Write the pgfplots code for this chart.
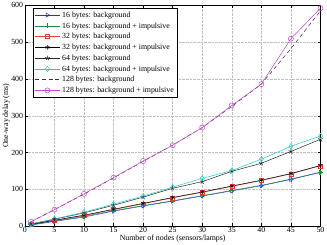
\documentclass[border=0pt]{standalone}
\usepackage{fontspec}
\setmainfont{Liberation Serif}
\usepackage{pgfplots}
\pgfplotsset{compat=1.18}
\usepackage{pgfplotstable}

\definecolor{mblue}{RGB}{40,40,250}
\definecolor{mgreen}{RGB}{20,140,60}
\definecolor{mred}{RGB}{235,60,60}
\definecolor{mcyan}{RGB}{40,200,200}
\definecolor{mmag}{RGB}{195,70,205}

% one-way delay (ms) against number of nodes
\pgfplotstableread{
n   bga   bgimpa  bgb  bgimpb  bgc  bgimpc  bgd  bgimpd
1   3     4       5    5       6    6       12   12
5   13    14      16   16      19   20      45   45
10  25    27      29   30      36   38      87   88
15  41    42      45   46      57   60      131  132
20  55    56      61   62      79   82      176  177
25  68    69      77   78      103  106     220  220
30  82    83      92   93      121  130     268  268
35  96    97      108  109     149  151     325  328
40  110   111     124  125     171  182     386  386
45  127   128     142  143     203  217     482  509
50  146   147     164  165     236  245     585  592
}\delay

\begin{document}
\fontsize{8}{9.5}\selectfont
\begin{tikzpicture}
\begin{axis}[
  scale only axis,
  width=301pt, height=225pt,
  xmin=0, xmax=50, ymin=0, ymax=600,
  xtick={0,5,...,50}, ytick={0,100,...,600},
  tick align=inside,
  major tick length=3pt,
  grid=major,
  major grid style={densely dotted, gray!50, line width=0.4pt},
  axis line style={line width=0.5pt},
  tick style={black, line width=0.4pt},
  ticklabel style={font=\fontsize{8}{9.5}\selectfont},
  xticklabel style={yshift=2pt},
  yticklabel style={xshift=1pt},
  /pgf/number format/assume math mode=true,
  xlabel={Number of nodes (sensors/lamps)},
  ylabel={One-way delay (ms)},
  label style={font=\fontsize{8}{9.5}\selectfont},
  xlabel style={yshift=3pt},
  ylabel style={yshift=-4pt},
  every axis plot/.append style={line width=0.5pt},
  mark options={solid, line width=0.5pt},
  legend cell align=left,
  legend style={at={(rel axis cs:0.027,0.987)}, anchor=north west,
    font=\fontsize{8}{9.5}\selectfont, draw=black, line width=0.5pt,
    inner sep=1.5pt, row sep=0.2pt},
  legend image code/.code={
    \draw[mark repeat=2, mark phase=2] plot coordinates {(0cm,0cm) (0.45cm,0cm) (0.9cm,0cm)};
  },
]
\addplot[mblue, mark=triangle, mark size=2.4pt, every mark/.append style={rotate=-90}] table[x=n, y=bga] {\delay};
\addlegendentry{16 bytes: background}
\addplot[mgreen, mark=+, mark size=2.6pt] table[x=n, y=bgimpa] {\delay};
\addlegendentry{16 bytes: background + impulsive}
\addplot[mred, mark=square, mark size=2pt] table[x=n, y=bgb] {\delay};
\addlegendentry{32 bytes: background}
\addplot[black, mark=asterisk, mark size=2.2pt] table[x=n, y=bgimpb] {\delay};
\addlegendentry{32 bytes: background + impulsive}
\addplot[black!85, mark=star, mark size=2.6pt] table[x=n, y=bgc] {\delay};
\addlegendentry{64 bytes: background}
\addplot[mcyan, mark=diamond, mark size=2.8pt] table[x=n, y=bgimpc] {\delay};
\addlegendentry{64 bytes: background + impulsive}
\addplot[black!80, dashed, dash pattern=on 4pt off 3pt] table[x=n, y=bgd] {\delay};
\addlegendentry{128 bytes: background}
\addplot[mmag, mark=o, mark size=2.6pt] table[x=n, y=bgimpd] {\delay};
\addlegendentry{128 bytes: background + impulsive}
\end{axis}
\end{tikzpicture}
\end{document}
